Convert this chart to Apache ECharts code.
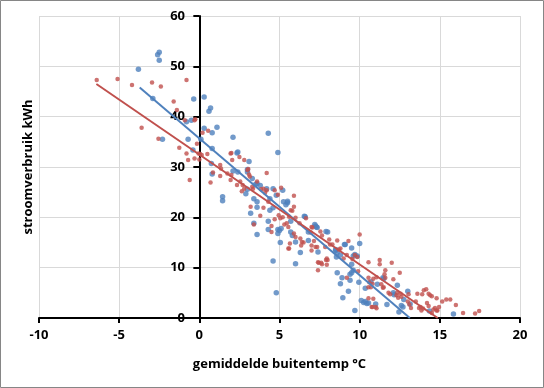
<!DOCTYPE html>
<html>
<head>
<meta charset="utf-8">
<script src="https://cdn.jsdelivr.net/npm/echarts@6/dist/echarts.min.js"></script>
<style>html,body{margin:0;padding:0;background:#fff;}#c{width:544px;height:388px;}</style>
</head>
<body>
<div id="c"></div>
<script>
const xTitle = 'gemiddelde buitentemp °C';
const yTitle = 'stroomverbruik kWh';
const xMin = -10, xMax = 20, xStep = 5;
const yMin = 0, yMax = 60, yStep = 10;

const bluePoints = [
[-3.8,49.4],[-2.5,52.8],[-2.6,52.3],[-2.5,51.2],[-2.9,43.6],[-2.3,35.5],[-0.35,43.5],[-0.8,39.0],[-0.5,39.3],[-0.7,35.5],
[-0.4,33.4],[0.3,43.9],[0.6,41.1],[0.7,41.7],[0.3,37.7],[1.1,37.9],[0.8,36.8],[0.1,35.5],[0.8,33.7],[0.75,30.7],
[0.8,28.6],[2.1,35.9],[2.35,32.8],[2.4,33.0],[3.1,31.1],[2.1,29.2],[2.4,29.0],[3.0,29.0],[3.0,29.5],[3.3,27.7],
[4.3,36.7],[3.6,26.7],[3.8,26.3],[3.0,25.6],[4.2,25.7],[4.9,32.9],[5.2,25.4],[3.5,26.5],[1.45,24.1],[2.9,24.7],
[3.4,23.7],[4.6,25.7],[4.8,24.4],[4.4,23.7],[1.45,23.3],[3.6,23.1],[3.6,22.0],[3.2,20.8],[4.4,21.4],[4.6,21.9],
[4.3,19.2],[3.4,18.8],[3.6,16.6],[4.3,17.6],[4.9,17.6],[4.9,16.8],[5.05,15.0],[4.6,11.3],[4.8,5.0],[5.25,23.1],
[5.5,23.2],[5.4,22.5],[5.7,19.2],[5.0,17.4],[6.6,20.1],[6.8,17.1],[7.2,18.6],[7.3,18.1],[8.0,17.1],[7.4,13.1],
[6.3,13.0],[9.05,14.6],[8.5,13.4],[8.6,13.0],[9.5,13.9],[9.6,12.3],[6.8,15.4],[5.7,17.1],[5.8,16.4],[6.0,15.1],
[8.8,12.5],[5.1,17.8],[6.0,10.8],[10.0,14.8],[9.7,12.6],[9.85,12.3],[8.6,9.0],[8.8,6.8],[8.95,4.0],[9.4,8.7],
[9.5,9.0],[9.6,9.5],[9.3,5.3],[9.7,1.5],[9.95,7.1],[10.1,3.5],[10.35,3.3],[10.55,3.0],[10.35,5.9],[10.7,7.2],
[11.0,2.8],[11.1,6.7],[11.45,8.0],[11.7,2.7],[12.35,6.5],[12.75,3.7],[12.45,1.2],[13.0,5.3],[15.85,0.8],[9.5,10.7],
[8.9,8.0],[10.25,3.1],[10.45,2.9],[11.5,7.8],[12.1,5.0],[12.15,4.6],[12.6,2.5],[12.7,2.2],[13.15,2.8],[14.35,1.4],
[9.4,7.5],[8.55,12.1],[7.9,17.2],[6.55,20.2],[5.5,22.9],[7.25,18.3],[7.35,18.0],[8.5,13.6],[9.1,14.6]
];

const redPoints = [
[-6.4,47.3],[-5.1,47.5],[-4.2,46.3],[-2.95,46.8],[-2.4,46.0],[-0.8,47.3],[-1.6,43.0],[-1.4,41.3],[-0.9,39.3],[-0.3,39.3],
[-3.6,37.8],[-2.55,35.6],[-1.25,33.8],[-0.8,32.7],[-0.7,31.4],[-0.3,31.7],[0.0,31.5],[-0.6,27.4],[-0.15,34.6],[0.05,32.6],
[0.5,32.6],[0.2,36.8],[0.55,37.2],[0.7,26.9],[0.85,28.9],[1.3,30.4],[1.35,29.7],[1.95,32.7],[2.05,31.4],[2.35,26.4],
[2.5,32.0],[2.8,31.4],[3.0,29.4],[3.15,28.1],[3.6,27.1],[4.2,28.8],[4.0,25.7],[4.2,25.4],[1.3,28.2],[1.75,28.7],
[1.95,27.4],[2.55,27.1],[2.7,26.4],[2.8,25.7],[3.35,25.7],[-0.25,39.5],[-0.05,32.7],[0.15,32.4],[2.0,32.8],[2.0,28.4],
[3.05,29.6],[3.1,28.5],[3.3,26.1],[3.85,25.6],[4.1,24.9],[4.7,25.4],[4.9,24.5],[2.65,25.2],[3.2,22.1],[4.0,21.9],
[3.8,20.3],[4.7,19.6],[3.4,18.6],[4.5,18.3],[4.5,17.1],[4.95,20.4],[4.3,23.1],[5.1,25.9],[5.9,24.3],[5.9,22.1],
[5.7,21.4],[5.6,20.1],[6.0,19.9],[5.05,19.8],[5.45,18.8],[5.55,18.1],[6.65,19.8],[5.9,16.8],[6.0,16.1],[6.3,15.8],
[6.4,15.1],[6.35,14.4],[5.65,14.8],[5.55,13.8],[7.0,18.1],[7.55,17.2],[7.65,16.4],[7.0,14.4],[7.25,14.1],[8.1,15.6],
[7.85,14.1],[8.15,14.6],[8.6,15.4],[8.8,13.8],[7.0,13.4],[7.95,11.8],[9.2,12.5],[5.8,21.3],[5.2,20.0],[5.3,18.6],
[6.95,17.0],[7.15,15.3],[6.25,18.8],[6.5,15.0],[7.05,18.0],[7.35,14.1],[7.45,11.0],[7.4,9.5],[7.65,10.7],[8.3,14.6],
[8.0,11.5],[8.7,13.6],[9.3,15.3],[10.0,16.6],[9.55,11.7],[9.2,8.0],[9.9,9.3],[10.55,8.0],[10.55,6.1],[10.8,2.2],
[11.0,2.2],[11.25,11.5],[11.25,10.7],[12.0,11.0],[11.55,8.7],[11.6,8.0],[11.35,6.7],[11.45,6.0],[11.8,5.0],[11.9,4.7],
[12.1,7.7],[12.5,9.0],[12.35,5.0],[12.55,4.8],[13.05,4.7],[13.0,3.3],[13.1,2.7],[13.2,2.0],[13.5,3.3],[13.6,4.8],
[13.9,4.7],[14.0,5.5],[14.15,5.7],[14.3,4.8],[14.2,3.0],[14.3,2.4],[13.8,2.2],[13.95,1.9],[14.6,1.7],[14.85,1.5],
[14.5,1.0],[15.15,3.3],[15.4,3.7],[15.65,3.7],[14.95,2.2],[16.0,2.6],[16.45,1.0],[17.2,0.9],[17.45,1.4],[9.7,12.5],
[9.85,12.1],[10.55,11.1],[11.6,9.5],[10.85,7.8],[11.05,8.1],[10.6,7.1],[10.7,6.1],[10.8,6.8],[11.5,6.1],[10.55,3.9],
[10.85,3.8],[10.75,2.2],[11.05,1.95],[12.3,4.5],[12.4,4.0],[12.6,4.2],[14.4,4.5],[14.5,4.3],[14.8,3.9],[13.7,2.0],
[13.85,1.5],[14.7,2.0],[14.8,1.5],[7.4,11.1],[7.6,11.0],[7.9,11.5],[7.95,10.6],[9.0,11.8],[5.6,13.8]
];

const blueTrend = [[-3.72, 45.8], [13.13, 0]];
const redTrend = [[-6.42, 46.5], [14.87, 0]];

const BLUE = '#4F81BD', RED = '#C0504D';
const font = '"Open Sans", sans-serif';
const lbl = {color: '#000', fontWeight: 'bold', fontSize: 13, fontFamily: font};

const chart = echarts.init(document.getElementById('c'), null, {renderer: 'canvas'});
chart.setOption({
  animation: false,
  backgroundColor: '#fff',
  grid: {left: 39, right: 24, top: 16, bottom: 70},
  xAxis: {
    type: 'value', min: xMin, max: xMax, interval: xStep,
    axisLine: {show: true, onZero: false, lineStyle: {color: '#000', width: 2}},
    axisTick: {show: true, length: 5, lineStyle: {color: '#000', width: 2}},
    axisLabel: Object.assign({margin: 11}, lbl),
    splitLine: {show: true, lineStyle: {color: '#d9d9d9', width: 1}},
    name: xTitle, nameLocation: 'middle', nameGap: 40,
    nameTextStyle: lbl
  },
  yAxis: {
    type: 'value', min: yMin, max: yMax, interval: yStep,
    axisLine: {show: true, onZero: true, lineStyle: {color: '#000', width: 2}},
    axisTick: {show: true, length: 6, lineStyle: {color: '#000', width: 2}},
    axisLabel: Object.assign({margin: -146}, lbl),
    splitLine: {show: true, lineStyle: {color: '#d9d9d9', width: 1}}
  },
  graphic: [
    {type: 'rect', silent: true, z: -10, shape: {x: 0.5, y: 0.5, width: 543, height: 387},
     style: {fill: 'none', stroke: '#868686', lineWidth: 1}},
    {type: 'text', silent: true, rotation: Math.PI / 2, x: 28, y: 167,
     style: {text: yTitle, fill: '#000', font: 'bold 13px ' + font, align: 'center', verticalAlign: 'middle'}}
  ],
  series: [
    {type: 'scatter', data: bluePoints, symbolSize: 5.5, itemStyle: {color: BLUE}, z: 2},
    {type: 'scatter', data: redPoints, symbolSize: 4.5, itemStyle: {color: RED}, z: 3},
    {type: 'line', data: blueTrend, showSymbol: false, symbol: 'none', lineStyle: {color: BLUE, width: 2}, z: 4},
    {type: 'line', data: redTrend, showSymbol: false, symbol: 'none', lineStyle: {color: RED, width: 2}, z: 4}
  ]
});
</script>
</body>
</html>
